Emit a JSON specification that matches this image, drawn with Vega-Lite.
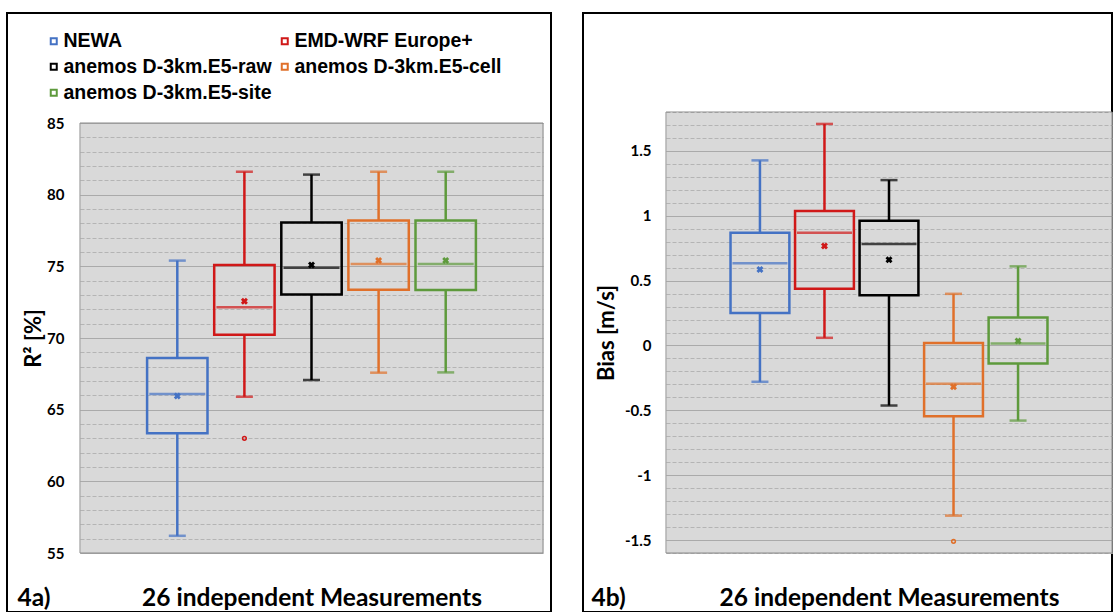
{
  "$schema": "https://vega.github.io/schema/vega-lite/v6.json",
  "padding": {"left": 6, "top": 12, "right": 0, "bottom": 0},
  "background": "white",
  "spacing": 30,
  "config": {
    "font": "Lato",
    "view": {"stroke": "black", "strokeWidth": 2, "fill": "white"},
    "axis": {"labelFont": "Lato", "labelFontWeight": "bold", "labelColor": "black", "titleFont": "Lato", "titleFontWeight": "bold", "titleColor": "black"}
  },
  "datasets": {
    "left": [
      {"model": "NEWA", "lo": 56.2, "q1": 63.35, "med": 66.1, "q3": 68.6, "hi": 75.4, "mean": 65.95},
      {"model": "EMD-WRF Europe+", "lo": 65.9, "q1": 70.23, "med": 72.14, "q3": 75.1, "hi": 81.6, "mean": 72.56},
      {"model": "anemos D-3km.E5-raw", "lo": 67.07, "q1": 73.03, "med": 74.9, "q3": 78.05, "hi": 81.4, "mean": 75.1},
      {"model": "anemos D-3km.E5-cell", "lo": 67.58, "q1": 73.37, "med": 75.17, "q3": 78.2, "hi": 81.6, "mean": 75.4},
      {"model": "anemos D-3km.E5-site", "lo": 67.6, "q1": 73.35, "med": 75.17, "q3": 78.2, "hi": 81.6, "mean": 75.4}
    ],
    "left_out": [
      {"model": "EMD-WRF Europe+", "value": 63.0}
    ],
    "right": [
      {"model": "NEWA", "lo": -0.28, "q1": 0.25, "med": 0.633, "q3": 0.869, "hi": 1.427, "mean": 0.586},
      {"model": "EMD-WRF Europe+", "lo": 0.059, "q1": 0.437, "med": 0.869, "q3": 1.036, "hi": 1.708, "mean": 0.766},
      {"model": "anemos D-3km.E5-raw", "lo": -0.463, "q1": 0.388, "med": 0.782, "q3": 0.961, "hi": 1.275, "mean": 0.66},
      {"model": "anemos D-3km.E5-cell", "lo": -1.312, "q1": -0.546, "med": -0.296, "q3": 0.02, "hi": 0.398, "mean": -0.319},
      {"model": "anemos D-3km.E5-site", "lo": -0.579, "q1": -0.139, "med": 0.015, "q3": 0.216, "hi": 0.61, "mean": 0.035}
    ],
    "right_out": [
      {"model": "anemos D-3km.E5-cell", "value": -1.51}
    ],
    "frame": [{"a": 0}]
  },
  "hconcat": [
    {
      "width": 544,
      "height": 599,
      "resolve": {"scale": {"x": "independent", "y": "independent"}, "axis": {"x": "independent", "y": "independent"}},
      "layer": [
        {
          "data": {"name": "frame"},
          "mark": {"type": "rect", "filled": false, "stroke": "#8A8A8A", "strokeWidth": 1},
          "encoding": {
            "x": {"datum": 0, "type": "quantitative", "scale": {"domain": [0, 1], "range": [73, 536], "nice": false, "zero": false},
              "axis": {"orient": "bottom", "title": "4a)", "labels": false, "ticks": false, "domain": false, "grid": false, "titleX": 10, "titleY": -7, "titleAlign": "left", "titleBaseline": "alphabetic", "titleFontSize": 24.5}},
            "x2": {"datum": 1},
            "y": {"datum": 55, "type": "quantitative", "scale": {"domain": [55, 85], "range": [540, 110], "nice": false, "zero": false},
              "axis": {"orient": "left", "values": [70], "grid": true, "gridWidth": 430, "gridColor": "#D9D9D9", "gridCap": "butt", "labels": false, "ticks": false, "domain": false, "title": null}},
            "y2": {"datum": 85}
          }
        },
        {
          "data": {"name": "left"},
          "encoding": {
            "x": {"field": "model", "type": "nominal",
              "scale": {"domain": ["NEWA", "EMD-WRF Europe+", "anemos D-3km.E5-raw", "anemos D-3km.E5-cell", "anemos D-3km.E5-site"], "range": [73, 536], "paddingInner": 0.1, "paddingOuter": 1.284},
              "axis": {"orient": "bottom", "title": "26 independent Measurements", "labels": false, "ticks": false, "domain": false, "grid": false, "titleY": -7, "titleBaseline": "alphabetic", "titleFontSize": 24.5}},
            "color": {"field": "model", "type": "nominal",
              "scale": {"domain": ["NEWA", "EMD-WRF Europe+", "anemos D-3km.E5-raw", "anemos D-3km.E5-cell", "anemos D-3km.E5-site"], "range": ["#4472C4", "#D01818", "#000000", "#E0702A", "#5E9A3C"]},
              "legend": null}
          },
          "layer": [
            {
              "mark": {"type": "bar", "filled": false, "strokeWidth": 2.5},
              "encoding": {
                "stroke": {"field": "model", "type": "nominal",
                  "scale": {"domain": ["NEWA", "EMD-WRF Europe+", "anemos D-3km.E5-raw", "anemos D-3km.E5-cell", "anemos D-3km.E5-site"], "range": ["#4472C4", "#D01818", "#000000", "#E0702A", "#5E9A3C"]},
                  "legend": {"orient": "none", "direction": "horizontal", "legendX": 37, "legendY": 18, "columns": 2, "title": null,
                    "symbolType": "M-1,-1H1V1H-1Z M-0.5,-0.5V0.5H0.5V-0.5Z", "symbolSize": 64, "symbolStrokeWidth": 0,
                    "labelFont": "Liberation Sans", "labelFontWeight": "bold", "labelFontSize": 19.5, "labelColor": "black", "labelOffset": 0, "columnPadding": 3, "rowPadding": 5, "padding": 0, "labelLimit": 400}},
                "y": {"field": "q1", "type": "quantitative", "scale": {"domain": [55, 85], "range": [540, 110], "nice": false, "zero": false},
                  "axis": {"orient": "left", "offset": -73, "values": [55, 56, 57, 58, 59, 60, 61, 62, 63, 64, 65, 66, 67, 68, 69, 70, 71, 72, 73, 74, 75, 76, 77, 78, 79, 80, 81, 82, 83, 84, 85],
                    "tickCount": 200,
                    "grid": true, "gridWidth": 1,
                    "gridColor": {"condition": {"test": "datum.value % 5 === 0", "value": "#9A9A9A"}, "value": "#B4B4B4"},
                    "gridDash": {"condition": {"test": "datum.value % 5 === 0", "value": [1, 0]}, "value": [4, 2]},
                    "labelExpr": "datum.value % 5 === 0 ? '' + datum.value : ''", "labelOverlap": false,
                    "ticks": false, "domain": false, "labelPadding": 16, "labelFontSize": 15,
                    "title": "R² [%]", "titleFontSize": 22, "titlePadding": 1}},
                "y2": {"field": "q3"}
              }
            },
            {"mark": {"type": "rule", "strokeWidth": 2.5}, "encoding": {"y": {"field": "lo", "type": "quantitative"}, "y2": {"field": "q1"}}},
            {"mark": {"type": "rule", "strokeWidth": 2.5}, "encoding": {"y": {"field": "q3", "type": "quantitative"}, "y2": {"field": "hi"}}},
            {"mark": {"type": "tick", "thickness": 2.5, "size": 17}, "encoding": {"y": {"field": "lo", "type": "quantitative"}}},
            {"mark": {"type": "tick", "thickness": 2.5, "size": 17}, "encoding": {"y": {"field": "hi", "type": "quantitative"}}},
            {"mark": {"type": "tick", "thickness": 2.5, "size": 56}, "encoding": {"y": {"field": "med", "type": "quantitative"}}},
            {"mark": {"type": "point", "shape": "cross", "angle": 45, "filled": true, "size": 50, "opacity": 1}, "encoding": {"y": {"field": "mean", "type": "quantitative"}}},
            {"data": {"name": "left_out"}, "mark": {"type": "point", "shape": "circle", "filled": false, "size": 14, "strokeWidth": 1.5, "opacity": 1}, "encoding": {"y": {"field": "value", "type": "quantitative"}}}
          ]
        }
      ]
    },
    {
      "width": 529,
      "height": 599,
      "resolve": {"scale": {"x": "independent", "y": "independent"}, "axis": {"x": "independent", "y": "independent"}},
      "layer": [
        {
          "data": {"name": "frame"},
          "mark": {"type": "rect", "filled": false, "stroke": "#8A8A8A", "strokeWidth": 1},
          "encoding": {
            "x": {"datum": 0, "type": "quantitative", "scale": {"domain": [0, 1], "range": [83, 529], "nice": false, "zero": false},
              "axis": {"orient": "bottom", "title": "4b)", "labels": false, "ticks": false, "domain": false, "grid": false, "titleX": 8, "titleY": -7, "titleAlign": "left", "titleBaseline": "alphabetic", "titleFontSize": 24.5}},
            "x2": {"datum": 1},
            "y": {"datum": -1.6, "type": "quantitative", "scale": {"domain": [-1.6, 1.8], "range": [540, 99], "nice": false, "zero": false},
              "axis": {"orient": "left", "values": [0.1], "grid": true, "gridWidth": 441, "gridColor": "#D9D9D9", "gridCap": "butt", "labels": false, "ticks": false, "domain": false, "title": null}},
            "y2": {"datum": 1.8}
          }
        },
        {
          "data": {"name": "right"},
          "encoding": {
            "x": {"field": "model", "type": "nominal",
              "scale": {"domain": ["NEWA", "EMD-WRF Europe+", "anemos D-3km.E5-raw", "anemos D-3km.E5-cell", "anemos D-3km.E5-site"], "range": [83, 529], "paddingInner": 0.088, "paddingOuter": 1.242},
              "axis": {"orient": "bottom", "title": "26 independent Measurements", "labels": false, "ticks": false, "domain": false, "grid": false, "titleY": -7, "titleBaseline": "alphabetic", "titleFontSize": 24.5}},
            "color": {"field": "model", "type": "nominal",
              "scale": {"domain": ["NEWA", "EMD-WRF Europe+", "anemos D-3km.E5-raw", "anemos D-3km.E5-cell", "anemos D-3km.E5-site"], "range": ["#4472C4", "#D01818", "#000000", "#E0702A", "#5E9A3C"]},
              "legend": null}
          },
          "layer": [
            {
              "mark": {"type": "bar", "filled": false, "strokeWidth": 2.5},
              "encoding": {
                "stroke": {"field": "model", "type": "nominal",
                  "scale": {"domain": ["NEWA", "EMD-WRF Europe+", "anemos D-3km.E5-raw", "anemos D-3km.E5-cell", "anemos D-3km.E5-site"], "range": ["#4472C4", "#D01818", "#000000", "#E0702A", "#5E9A3C"]},
                  "legend": {"orient": "none", "direction": "horizontal", "legendX": 39, "legendY": 18, "columns": 2, "title": null,
                    "symbolType": "M-1,-1H1V1H-1Z M-0.5,-0.5V0.5H0.5V-0.5Z", "symbolSize": 64, "symbolStrokeWidth": 0,
                    "labelFont": "Liberation Sans", "labelFontWeight": "bold", "labelFontSize": 19.5, "labelColor": "black", "labelOffset": 0, "columnPadding": 3, "rowPadding": 5, "padding": 0, "labelLimit": 400}},
                "y": {"field": "q1", "type": "quantitative", "scale": {"domain": [-1.6, 1.8], "range": [540, 99], "nice": false, "zero": false},
                  "axis": {"orient": "left", "offset": -83, "values": [-1.6, -1.5, -1.4, -1.3, -1.2, -1.1, -1, -0.9, -0.8, -0.7, -0.6, -0.5, -0.4, -0.3, -0.2, -0.1, 0, 0.1, 0.2, 0.3, 0.4, 0.5, 0.6, 0.7, 0.8, 0.9, 1, 1.1, 1.2, 1.3, 1.4, 1.5, 1.6, 1.7, 1.8],
                    "tickCount": 200,
                    "grid": true, "gridWidth": 1,
                    "gridColor": {"condition": {"test": "abs(datum.value * 2 - round(datum.value * 2)) < 0.001", "value": "#9A9A9A"}, "value": "#B4B4B4"},
                    "gridDash": {"condition": {"test": "abs(datum.value * 2 - round(datum.value * 2)) < 0.001", "value": [1, 0]}, "value": [4, 2]},
                    "labelExpr": "abs(datum.value * 2 - round(datum.value * 2)) < 0.001 ? '' + round(datum.value * 2) / 2 : ''", "labelOverlap": false,
                    "ticks": false, "domain": false, "labelPadding": 15, "labelFontSize": 15,
                    "title": "Bias [m/s]", "titleFontSize": 22, "titlePadding": 6}},
                "y2": {"field": "q3"}
              }
            },
            {"mark": {"type": "rule", "strokeWidth": 2.5}, "encoding": {"y": {"field": "lo", "type": "quantitative"}, "y2": {"field": "q1"}}},
            {"mark": {"type": "rule", "strokeWidth": 2.5}, "encoding": {"y": {"field": "q3", "type": "quantitative"}, "y2": {"field": "hi"}}},
            {"mark": {"type": "tick", "thickness": 2.5, "size": 17}, "encoding": {"y": {"field": "lo", "type": "quantitative"}}},
            {"mark": {"type": "tick", "thickness": 2.5, "size": 17}, "encoding": {"y": {"field": "hi", "type": "quantitative"}}},
            {"mark": {"type": "tick", "thickness": 2.5, "size": 55}, "encoding": {"y": {"field": "med", "type": "quantitative"}}},
            {"mark": {"type": "point", "shape": "cross", "angle": 45, "filled": true, "size": 50, "opacity": 1}, "encoding": {"y": {"field": "mean", "type": "quantitative"}}},
            {"data": {"name": "right_out"}, "mark": {"type": "point", "shape": "circle", "filled": false, "size": 14, "strokeWidth": 1.5, "opacity": 1}, "encoding": {"y": {"field": "value", "type": "quantitative"}}}
          ]
        }
      ]
    }
  ]
}
